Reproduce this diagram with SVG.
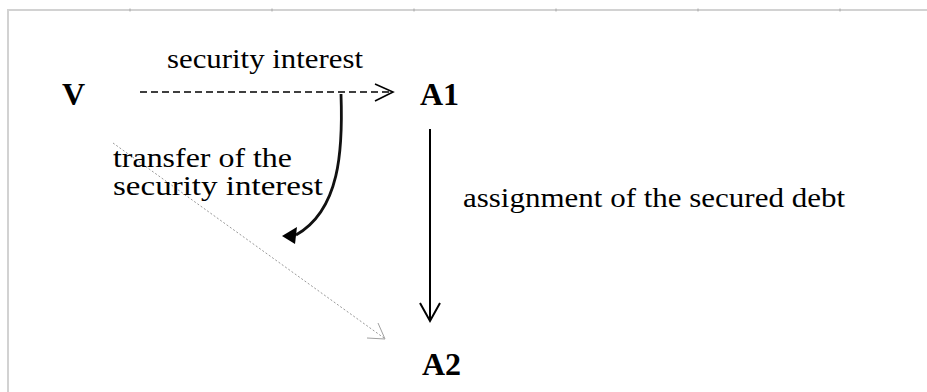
<svg xmlns="http://www.w3.org/2000/svg" width="927" height="392" viewBox="0 0 927 392">
<style>
.bold{font-family:"Liberation Serif","Times New Roman",serif;font-weight:bold;font-size:32px;fill:#000}
.lbl{font-family:"Liberation Serif","Times New Roman",serif;font-size:27px;fill:#000}
.frame{stroke:#d2d2d2;stroke-width:2;fill:none}
.tick{stroke:#a8a8a8;stroke-width:1}
</style>
<rect width="927" height="392" fill="#fff"/>
<g id="frame">
<path class="frame" d="M8 392 V10 H927"/>
<path class="tick" d="M130 8.5V11.5M272 8.5V11.5M414 8.5V11.5M556 8.5V11.5M698 8.5V11.5M840 8.5V11.5"/>
</g>
<g id="node-V"><text class="bold" x="62" y="105">V</text></g>
<g id="node-A1"><text class="bold" x="420" y="105">A1</text></g>
<g id="node-A2"><text class="bold" x="422" y="375">A2</text></g>
<g id="connectors">
<g id="edge-security-interest">
<line x1="140" y1="92" x2="391" y2="92" stroke="#000" stroke-width="1.4" stroke-dasharray="7 4"/>
<polyline points="375,84 393,92 375,101" fill="none" stroke="#000" stroke-width="1.6"/>
</g>
<g id="edge-assignment">
<line x1="430" y1="129" x2="430" y2="320" stroke="#000" stroke-width="2"/>
<polyline points="420,303 430,321 440,303" fill="none" stroke="#000" stroke-width="2"/>
</g>
<g id="edge-transfer">
<path d="M341 94 C343 150 340 210 296 235" fill="none" stroke="#111" stroke-width="2.8"/>
<polygon points="282,236 297,227 295,244" fill="#000"/>
</g>
<g id="edge-diagonal">
<line x1="113" y1="143" x2="384" y2="338" stroke="#9a9a9a" stroke-width="1" stroke-dasharray="2 2"/>
<polyline points="378,323 385,339 367,338" fill="none" stroke="#a0a0a0" stroke-width="1"/>
</g>
</g>
<g id="labels">
<text class="lbl" x="167" y="68" textLength="196" lengthAdjust="spacingAndGlyphs">security interest</text>
<text class="lbl" x="113" y="167" font-size="28" textLength="179" lengthAdjust="spacingAndGlyphs">transfer of the</text>
<text class="lbl" x="113" y="195" font-size="28" textLength="210" lengthAdjust="spacingAndGlyphs">security interest</text>
<text class="lbl" x="463" y="207" textLength="382" lengthAdjust="spacingAndGlyphs">assignment of the secured debt</text>
</g>
</svg>
